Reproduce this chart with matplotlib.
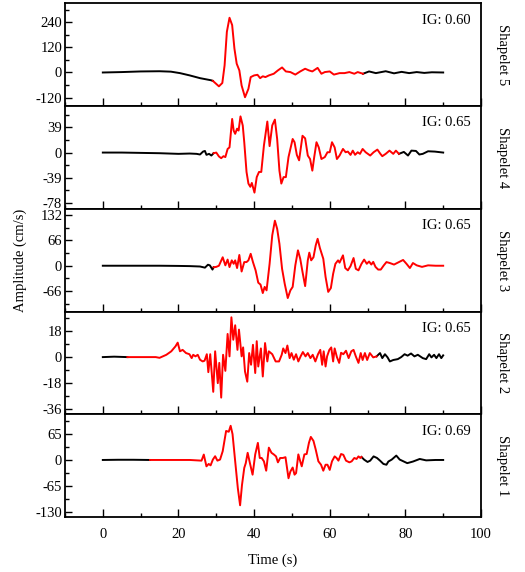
import matplotlib
matplotlib.use("Agg")
import matplotlib.pyplot as plt
from matplotlib.ticker import MultipleLocator, AutoMinorLocator
import numpy as np

plt.rcParams['font.family'] = ['Liberation Serif', 'DejaVu Serif']
plt.rcParams['axes.unicode_minus'] = False
plt.rcParams['mathtext.fontset'] = 'stix'

# ---------------- data ----------------
# Shapelet 5
t5 = [0, 5, 10, 15, 18, 20.4, 23, 25.7, 28.6, 29.1, 30.7, 31.6, 32.2, 32.8, 33.5, 34.2, 34.8,
      35.4, 36.1, 36.7, 37.6, 38.5, 39.1, 40.0, 40.9, 41.6, 42.3, 43.0, 43.9, 45.2, 46.3, 47.4,
      48.4, 49.6, 50.9, 52.2, 53.5, 54.5, 55.4, 56.8, 57.8, 58.7, 60.0, 61.1, 62.6, 63.9, 65.2,
      66.5, 67.4, 68.8, 70.4, 72.2, 74.8, 77, 79, 81, 83, 85, 87, 90]
v5 = [0, 2, 5, 6, 4, -3, -14, -27, -37, -40, -66, -50, 34, 194, 261, 226, 114,
      42, 10, -62, -118, -78, -22, -14, -11, -27, -18, -22, -14, -6, 10, 24,
      5, 2, -10, 5, 18, 10, 5, 22, -6, 2, 5, -10, -3, -3, 2,
      -6, 2, -6, 5, -3, 6, -4, 3, -3, 2, -2, 1, 0]
red5 = (29.1, 68.8)

# Shapelet 4
t4 = [0, 5, 10, 15, 20, 23, 24.8, 25.7, 26.5, 27.0, 27.4, 28.1, 28.7, 29.3, 30.0, 30.7, 31.3,
      31.9, 32.4, 33.0, 33.5, 34.2, 34.6, 35.0, 35.5, 35.9, 36.4, 37.0, 37.4, 38.0, 38.5, 39.0,
      39.4, 40.1, 40.7, 41.3, 41.9, 42.6, 43.5, 44.1, 44.8, 45.5, 46.1, 46.7, 47.2, 47.8, 48.4,
      49.1, 50.2, 50.7, 51.3, 51.9, 52.8, 53.5, 54.2, 54.8, 55.4, 55.9, 56.5, 57.1, 57.8, 58.7,
      59.4, 60.0, 60.6, 61.3, 61.9, 62.6, 63.5, 64.2, 64.8, 65.5, 66.1, 66.7, 67.4, 68.0, 68.7,
      69.5, 70.7, 71.6, 72.6, 73.4, 73.9, 74.8, 75.8, 76.8, 77.5, 78.3, 79.6, 80.7, 81.6, 82.8,
      83.7, 84.6, 86.0, 87.8, 90]
v4 = [0, 0, -0.5, -1, -2, -1.5, -2, -3, 1.5, 2.5, -3.5, -2, -4.6, -1, 0, -6, -8.7,
      -5.6, -7, 5.6, 8, 52, 34, 29, 37, 34, 56, 42, 16, -30, -48, -53,
      -47, -62, -38, -30, -30, 11, 48, 10, 42, 51, 21, -28, -48, -38, -38,
      -7, 21, 16, -3.6, -12, 26, 22, -4.6, -10, -28, -7, 16, 8, -10, -7,
      0.5, 0.5, 16, 8, -10, -4.6, 5.6, 0.5, 1.5, -3.6, 3, -3.5, 0.5, -2, 5.6,
      0.5, -4.6, 0.5, 4.6, -2, -5.6, -2, 3, -2, 3, -2, 1, -4.6, 3, 2.5,
      -3, -2, 2, 1.5, 0]
red4 = (29.3, 78.3)

# Shapelet 3
t3 = [0, 5, 10, 15, 20, 23, 25.7, 27.0, 27.8, 28.3, 29.0, 29.3, 30.0, 30.7, 31.7, 32.4, 33.0,
      33.5, 34.1, 34.6, 35.0, 35.5, 36.1, 36.7, 37.4, 38.0, 38.5, 39.1, 39.7, 40.4, 41.1, 41.7,
      42.3, 42.8, 43.3, 44.1, 44.8, 45.5, 46.1, 46.7, 47.4, 48.1, 48.9, 49.6, 50.2, 50.9, 51.6,
      52.2, 52.8, 53.5, 54.2, 54.6, 55.1, 55.7, 56.3, 56.8, 57.4, 58.3, 58.9, 59.6, 60.3, 60.9,
      61.5, 62.2, 62.6, 63.5, 64.1, 64.8, 65.5, 66.3, 66.9, 67.6, 68.4, 69.1, 69.8, 70.4, 71.0,
      71.5, 72.1, 72.8, 73.5, 74.3, 75.0, 75.9, 77.0, 78.0, 79.4, 80.3, 81.2, 82.0, 83.0, 84.4,
      86, 88, 90]
v3 = [0, 0, 0, 0, -0.5, -1, -2, -5, 2.6, 1, -10, -4, -3, 0, 22, 1, 16,
      -3.5, 14, 5, 14, -6, 28, -15, 9.5, 9.5, 14, 31, 9.5, -12, -44, -49,
      -71, -55, -64, 5, 79, 117, 96, 57, -8, -47, -84, -64, -55, 1, 40,
      18, -16, -53, 14, 34, 14, 22, 53, 70, 46, 18, -29, -68, -58, -21,
      5, 14, 8, 27, -6, -12, -1, 20, -8, -12, 5, 16, 5, 11, 3,
      10, -3, -10, -10, 1, 9.5, 7, 3, 8, 15, 5, -6, 7, 1, -3,
      1, 0, 0]
red3 = (29.3, 90)

# Shapelet 2
t2 = [0, 3, 6.5, 10, 14, 15, 16.8, 18.1, 19.2, 19.8, 20.4, 21.1, 22.0, 22.9, 23.5, 23.9, 24.5,
      25.1, 25.7, 26.4, 26.9, 27.5, 27.9, 28.4, 29.2, 29.7, 30.4, 30.8, 31.3, 31.8, 32.4, 33.0,
      33.5, 34.0, 34.5, 35.0, 35.6, 36.0, 36.7, 37.1, 37.6, 38.2, 38.7, 39.2, 39.7, 40.3, 40.7,
      41.1, 41.8, 42.3, 42.9, 43.5, 43.9, 44.8, 45.7, 46.6, 47.3, 47.7, 48.3, 48.8, 49.4, 49.9,
      50.5, 51.1, 51.7, 52.3, 52.9, 53.6, 54.2, 54.9, 55.5, 56.2, 56.9, 57.5, 58.0, 58.4, 58.9,
      59.3, 59.9, 60.4, 60.9, 61.3, 61.9, 62.5, 63.0, 63.6, 64.3, 65.0, 65.7, 66.3, 66.9, 67.6,
      68.2, 68.7, 69.3, 69.9, 70.6, 71.5, 72.4, 73.3, 73.9, 74.6, 75.3, 75.9, 76.8, 78.0, 78.9,
      79.8, 80.6, 81.5, 82.4, 83.3, 84.6, 85.5, 86.3, 86.9, 87.6, 88.2, 88.9, 89.5, 90]
v2 = [0, 0.3, 0, 0, 0, -0.5, 1.6, 4, 7.4, 10, 4, 5, 2.8, 2, -0.7, 1.6, 0.5,
      1.6, -1.8, -3, -2.5, 2, -10.4, 2, -24, 4, -18, -4, -28, 1.6, -9.5, 16,
      0.5, 27.5, 12, 22, 5, 19, 0.5, 6.7, -10, -17, 2.8, -5.3, 8.5, -11, 11,
      -6.5, 6, -13.4, 9.7, -3, 4, 2, -3, -3, 1.6, 6, 2.8, 8, -0.7, 2.8,
      -1.8, 2, -3, 0.5, 3.5, 0.5, 2.8, -0.7, 1.6, -3, 2, 5, -5.3, 4, -6.5,
      0.5, 5, 6.7, -3, 6, 0, -4, 3, 2, 4.4, -0.7, 4, 5, 0.5, -4,
      2.8, -2, 2.8, -2, 2.8, -0.2, 0.5, 2.8, -0.7, 2, -0.2, -3, -2, -1.4, 0,
      2, 1, 2.5, 0.5, 1.6, -0.7, -1.4, 2, -0.2, 1.6, -0.7, 2, -0.7, 1.2]
red2 = (6.5, 72.4)

# Shapelet 1
t1 = [0, 4, 8, 12.5, 16, 20, 23, 26.1, 26.7, 27.4, 28.0, 28.5, 29.1, 29.7, 30.3, 31.0, 31.7,
      32.6, 33.3, 33.8, 34.3, 35.0, 35.7, 36.3, 36.8, 37.4, 37.8, 38.3, 38.9, 39.6, 40.3, 41.0,
      41.5, 42.0, 42.6, 43.2, 43.9, 44.6, 45.2, 45.8, 46.3, 46.9, 47.6, 48.3, 49.1, 49.6, 50.2,
      50.7, 51.1, 51.7, 52.2, 52.6, 53.3, 53.9, 54.5, 55.0, 55.7, 56.3, 57.0, 57.7, 58.3, 58.9,
      59.4, 60.0, 60.6, 61.3, 61.8, 62.3, 63.0, 63.6, 64.3, 65.2, 65.8, 66.5, 67.1, 67.6, 68.1,
      68.4, 69.1, 70.0, 70.7, 71.6, 72.5, 73.3, 74.2, 75.0, 75.5, 76.4, 77.6, 78.5, 80.5, 82.0,
      83.8, 85.5, 88, 90]
v1 = [0, 0.5, 0.5, 0, 0, 0, 0, -1.7, 13.6, -16, -10, -13.6, 1, 9.4, -1.7, 1, 22,
      73, 71, 86, 65, -3.4, -71, -114, -63, -20, -8, 18, -8, -37, 14, 43,
      5, 5, -3.4, -27, 31, 18, 14, 9, -6, 5, 5, 7, -46, -29, -19,
      -37, -33, 14, -3.4, -16, 14, 15, 43, 58, 48, 26, -3.4, -12, -27, -12,
      -12, -25, -3.4, 9, 5, -1.7, 15, 13, -1.7, -6, -3.4, 5, 2.5, 9, 5,
      7.5, 0.8, -5, -1.7, 9, 5, -1.7, -10, -12, -4, 1, 11, 1, -8, -4,
      2.5, -1, 0, 0]
red1 = (12.5, 68.4)

names = ["Shapelet 5", "Shapelet 4", "Shapelet 3", "Shapelet 2", "Shapelet 1"]
ig_labels = ["IG: 0.60", "IG: 0.65", "IG: 0.65", "IG: 0.65", "IG: 0.69"]
yticks = [[-120, 0, 120, 240], [-78, -39, 0, 39], [-66, 0, 66, 132], [-36, -18, 0, 18], [-130, -65, 0, 65]]
ylims = [(-160, 330), (-87, 72), (-119, 148), (-39.5, 31.5), (-143.5, 115)]
xticks = [0, 20, 40, 60, 80, 100]

series = [(t5, v5, red5), (t4, v4, red4), (t3, v3, red3), (t2, v2, red2), (t1, v1, red1)]

# ---------------- figure ----------------
fig, axes = plt.subplots(5, 1, figsize=(5.25, 5.72), dpi=100, sharex=True,
                         gridspec_kw=dict(hspace=0))
fig.subplots_adjust(left=65 / 525, right=481 / 525, top=1 - 3.3 / 572, bottom=1 - 517 / 572)

FS = 10.5
for ax, (t, v, (rs, re)), name, ig, yt, yl in zip(axes, series, names, ig_labels, yticks, ylims):
    t = np.asarray(t, float)
    v = np.asarray(v, float)
    before = t <= rs
    inside = (t >= rs) & (t <= re)
    after = t >= re
    lw = 1.4
    if before.sum() > 1:
        ax.plot(t[before], v[before], color='black', lw=lw, solid_joinstyle='round')
    if after.sum() > 1:
        ax.plot(t[after], v[after], color='black', lw=lw, solid_joinstyle='round')
    ax.plot(t[inside], v[inside], color='#ff0000', lw=lw, solid_joinstyle='round')

    ax.set_xlim(-10, 100)
    ax.set_ylim(*yl)
    ax.set_yticks(yt)
    ax.set_yticklabels([str(y) for y in yt])
    ax.yaxis.set_minor_locator(AutoMinorLocator(2))
    ax.xaxis.set_major_locator(MultipleLocator(20))
    ax.xaxis.set_minor_locator(MultipleLocator(10))
    ax.tick_params(which='both', direction='in', left=True, bottom=True, right=False, top=False,
                   labelsize=FS, width=1.0)
    ax.tick_params(which='major', length=5)
    ax.tick_params(which='minor', length=3)
    ax.tick_params(axis='y', which='major', pad=2)
    ax.tick_params(axis='x', which='major', length=6, pad=8)
    for sp in ax.spines.values():
        sp.set_linewidth(1.3)
    ax.text(0.976, 0.835, ig, transform=ax.transAxes, ha='right', va='center', fontsize=FS)
    ax.text(1.052, 0.5, name, transform=ax.transAxes, ha='center', va='center',
            rotation=270, fontsize=FS)

axes[-1].set_xticks(xticks)
axes[-1].set_xticklabels([str(x) for x in xticks])
axes[-1].set_xlabel("Time (s)", fontsize=FS, labelpad=9)
fig.text(20 / 525, 1 - 260 / 572, "Amplitude (cm/s)", rotation=90, ha='center', va='center',
         fontsize=FS)

fig.savefig("out.png", dpi=100)
